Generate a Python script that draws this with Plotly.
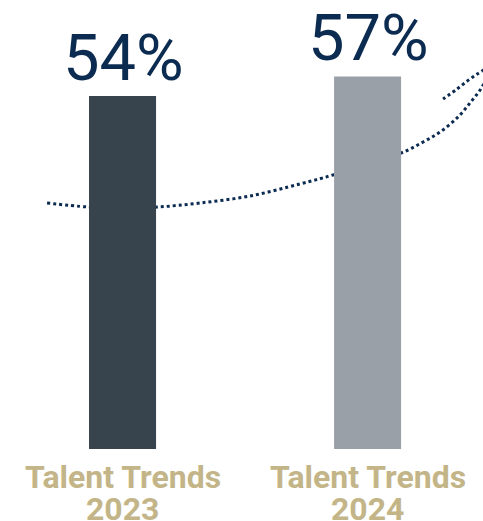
import plotly.graph_objects as go

# Survey results by edition
editions = ["Talent Trends", "Talent Trends"]
years = ["2023", "2024"]
values = [54, 57]
bar_colors = ["#37444d", "#9aa0a7"]

# Decorative dotted swoosh (axis units), ends in a loop past the right edge
swoosh_x = [-0.308, -0.141, -0.002, 0.145, 0.316, 0.520, 0.724, 0.859, 1.137,
            1.227, 1.296, 1.365, 1.418, 1.467, 1.508, 1.561, 1.643, 1.724,
            1.724, 1.561, 1.467, 1.418, 1.365, 1.308]
swoosh_y = [37.64, 37.03, 36.88, 37.03, 37.64, 38.71, 40.55, 41.93, 45.29,
            46.98, 48.51, 50.65, 52.95, 55.39, 58.76, 61.82, 63.81, 63.35,
            61.06, 60.14, 57.84, 56.61, 55.08, 53.55]

NAVY = "#0c2b51"
TAN = "#c3b588"
XR = [-0.5, 1.471]
YR = [0, 68.7]

fig = go.Figure()

# swoosh on the base axes so the bars (overlaying axes) sit on top of it
fig.add_trace(go.Scatter(
    x=swoosh_x, y=swoosh_y, mode="lines",
    line=dict(color=NAVY, width=3, dash="dot", shape="spline", smoothing=1.0),
    hoverinfo="skip", showlegend=False, xaxis="x", yaxis="y",
))

fig.add_trace(go.Bar(
    x=list(range(len(values))), y=values, width=0.2735,
    marker=dict(color=bar_colors, line=dict(width=0)),
    showlegend=False, xaxis="x2", yaxis="y2",
))

annotations = []
for i, v in enumerate(values):
    annotations.append(dict(
        x=i, y=v, xref="x2", yref="y2", text=f"{v}%", showarrow=False,
        xanchor="center", yanchor="middle", yshift=38, xshift=1,
        font=dict(family="Roboto", size=65, color=NAVY),
    ))
    annotations.append(dict(
        x=i, y=0, xref="x2", yref="y2", text=f"<b>{editions[i]}</b>", showarrow=False,
        xanchor="center", yanchor="middle", yshift=-28,
        font=dict(family="Roboto", size=32, color=TAN),
    ))
    annotations.append(dict(
        x=i, y=0, xref="x2", yref="y2", text=f"<b>{years[i]}</b>", showarrow=False,
        xanchor="center", yanchor="middle", yshift=-60,
        font=dict(family="Roboto", size=32, color=TAN),
    ))

fig.update_layout(
    width=483, height=521,
    margin=dict(l=0, r=0, t=0, b=72),
    paper_bgcolor="white", plot_bgcolor="rgba(0,0,0,0)",
    showlegend=False,
    xaxis=dict(range=XR, visible=False, fixedrange=True),
    yaxis=dict(range=YR, visible=False, fixedrange=True),
    xaxis2=dict(range=XR, visible=False, overlaying="x", fixedrange=True),
    yaxis2=dict(range=YR, visible=False, overlaying="y", fixedrange=True),
    annotations=annotations,
)

fig.write_html("out.html")
